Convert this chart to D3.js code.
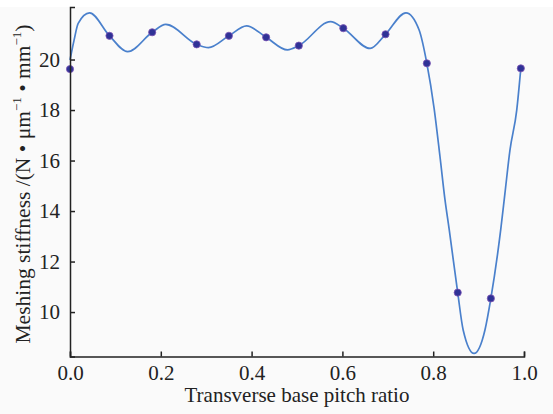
<!DOCTYPE html>
<html>
<head>
<meta charset="utf-8">
<script src="https://cdn.jsdelivr.net/npm/d3@7/dist/d3.min.js"></script>
<style>
  html, body { margin: 0; padding: 0; background: #fafafa; }
  svg { display: block; }
  text { font-family: "Liberation Serif", serif; fill: #222; }
</style>
</head>
<body>
<svg id="chart" width="553" height="414"></svg>
<script>
// Sampled meshing-stiffness points (markers)
const markerRatio = [0.000, 0.087, 0.181, 0.279, 0.350, 0.432, 0.504, 0.602, 0.695, 0.786, 0.854, 0.927, 0.993];
const markerStiff = [19.62, 20.94, 21.08, 20.60, 20.94, 20.88, 20.55, 21.24, 21.00, 19.85, 10.77, 10.54, 19.65];

// Fitted stiffness curve knots
const curveRatio = [0.000, 0.009, 0.018, 0.043, 0.087, 0.127, 0.181, 0.211, 0.279, 0.305, 0.350, 0.389,
                    0.432, 0.479, 0.504, 0.574, 0.602, 0.661, 0.695, 0.740, 0.769, 0.786, 0.802, 0.815,
                    0.826, 0.835, 0.854, 0.866, 0.890, 0.914, 0.927, 0.949, 0.958, 0.969, 0.984, 0.993];
const curveStiff = [19.98, 20.77, 21.43, 21.85, 20.94, 20.31, 21.08, 21.39, 20.60, 20.47, 20.94, 21.33,
                    20.88, 20.38, 20.55, 21.50, 21.24, 20.44, 21.00, 21.85, 21.17, 19.85, 18.07, 16.15,
                    14.44, 13.30, 10.77, 9.29, 8.36, 9.29, 10.54, 13.30, 14.70, 16.40, 18.00, 19.65];

const xTicks = [0, 0.2, 0.4, 0.6, 0.8, 1.0];
const yTicks = [10, 12, 14, 16, 18, 20];

const serif = "'Liberation Serif', serif";

const svg = d3.select("#chart");
svg.append("rect").attr("x", 0).attr("y", 0).attr("width", 553).attr("height", 7).attr("fill", "#ffffff");

const x = d3.scaleLinear().domain([0, 1]).range([70, 524]);
const y = d3.scaleLinear().domain([8.24, 22.08]).range([356.5, 7]);

// Curve
const line = d3.line()
  .x((d, i) => x(curveRatio[i]))
  .y((d, i) => y(curveStiff[i]))
  .curve(d3.curveMonotoneX);

svg.append("path")
  .datum(curveRatio)
  .attr("d", line)
  .attr("fill", "none")
  .attr("stroke", "#4a80cc")
  .attr("stroke-width", 1.7);

// Markers
svg.append("g")
  .selectAll("circle")
  .data(markerRatio)
  .join("circle")
  .attr("cx", (d) => x(d))
  .attr("cy", (d, i) => y(markerStiff[i]))
  .attr("r", 3.6)
  .attr("fill", "#2f3296")
  .attr("stroke", "#7d55b5")
  .attr("stroke-width", 0.8);

// Axes
const xAxis = d3.axisBottom(x)
  .tickValues(xTicks)
  .tickFormat(d3.format(".1f"))
  .tickSize(-5)
  .tickSizeOuter(-5)
  .tickPadding(9);

const yAxis = d3.axisLeft(y)
  .tickValues(yTicks)
  .tickFormat(d3.format("d"))
  .tickSize(-5)
  .tickSizeOuter(-5)
  .tickPadding(10);

const gx = svg.append("g").attr("transform", "translate(0,356.5)").call(xAxis);
const gy = svg.append("g").attr("transform", "translate(70,0)").call(yAxis);

[gx, gy].forEach((g) => {
  g.attr("font-family", serif).attr("font-size", 21);
  g.selectAll("path, line").attr("stroke", "#222").attr("stroke-width", 1.5);
  g.selectAll("text").style("font-family", serif).style("font-size", "21px").attr("fill", "#222");
});

// Axis titles
svg.append("text")
  .attr("x", 297)
  .attr("y", 402)
  .attr("text-anchor", "middle")
  .style("font-family", serif)
  .style("font-size", "21px")
  .text("Transverse base pitch ratio");

const yTitle = svg.append("text")
  .attr("transform", "translate(30,184) rotate(-90)")
  .attr("text-anchor", "middle")
  .style("font-family", serif)
  .style("font-size", "21.5px");
yTitle.append("tspan").text("Meshing stiffness /(N • μm");
yTitle.append("tspan").style("font-size", "13px").attr("dy", -9).text("−1");
yTitle.append("tspan").attr("dy", 9).text(" • mm");
yTitle.append("tspan").style("font-size", "13px").attr("dy", -9).text("−1");
yTitle.append("tspan").attr("dy", 9).text(")");
</script>
</body>
</html>
